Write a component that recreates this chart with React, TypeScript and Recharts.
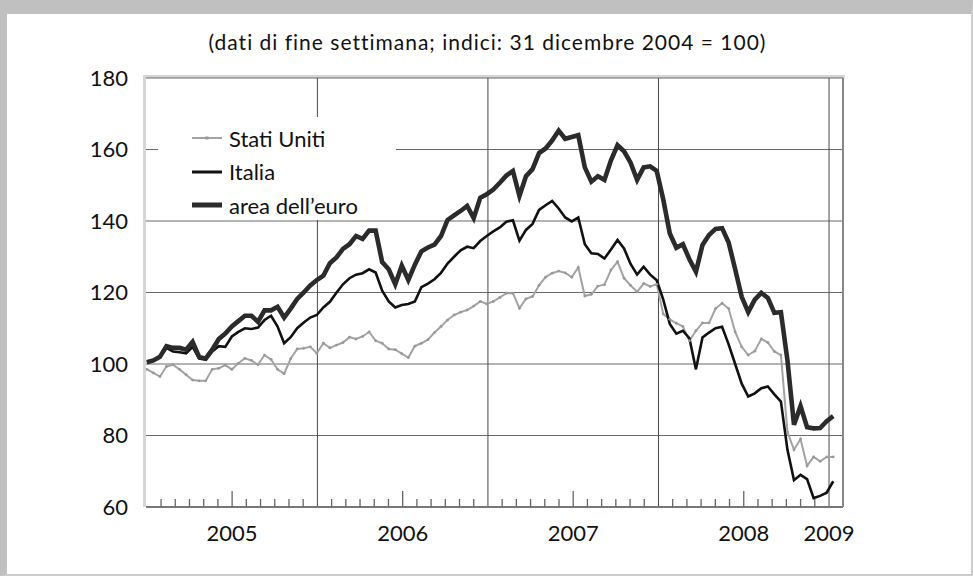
import { LineChart, Line, XAxis, YAxis, CartesianGrid, ReferenceLine, Legend } from 'recharts';

// fortnightly readings from 31 Dec 2004 to Jan 2009 (index: 31/12/2004 = 100)
const START_YEAR = 2005;
const STEP_DAYS = 14;

const statiUniti = [
  98.5, 97.5, 96.5, 99.3, 99.8, 98.5, 97, 95.5, 95.3, 95.3,
  98.5, 98.8, 99.7, 98.5, 100.2, 101.6, 101, 99.8, 102.5, 101.3,
  98.5, 97.3, 101.5, 104.2, 104.4, 104.8, 103, 105.8, 104.5, 105.3,
  106, 107.5, 107, 107.7, 109, 106.5, 105.8, 104.2, 104, 102.9,
  101.8, 105, 105.8, 106.8, 108.8, 110.5, 112.3, 113.7, 114.5, 115.1,
  116.2, 117.5, 116.8, 117.5, 118.6, 119.8, 119.8, 115.6, 118.2, 118.9,
  122, 124.3, 125.4, 126, 125.5, 124.3, 127, 119, 119.5, 121.8,
  122.2, 126.3, 128.6, 124, 122, 120.2, 122.5, 121.7, 122.3, 114,
  112.5, 111.4, 110.5, 106.5, 109.3, 111.5, 111.5, 115.5, 117, 115.5,
  109, 104.8, 102.5, 103.6, 107, 106, 103.5, 102.5, 81, 76,
  79, 71.5, 74, 72.8, 74, 74,
];

const italia = [
  100.5, 101, 102, 104.5, 103.5, 103.3, 103, 104.8, 101.5, 101.2,
  103.5, 105, 104.8, 107.7, 109, 110, 109.8, 110.2, 112.3, 113.5,
  110.5, 105.8, 107.5, 110, 111.6, 113, 113.7, 115.8, 117.4, 119.9,
  122.3, 124, 125, 125.4, 126.5, 125.6, 120.5, 117.5, 115.8, 116.5,
  116.8, 117.5, 121.5, 122.5, 123.7, 125.5, 128.1, 130, 131.8, 132.8,
  132.4, 134.4, 135.8, 137.1, 138.2, 139.8, 140.2, 134.5, 137.5, 139.2,
  143.1, 144.4, 145.6, 143.5, 141, 139.9, 141, 133.5, 131, 130.8,
  129.5, 132, 134.7, 132.3, 128, 125, 127.2, 125, 123.4, 118,
  111.2, 108.5, 109.3, 107.2, 98.5, 107.4, 108.8, 110, 110.4, 105.5,
  100, 94.5, 90.9, 91.8, 93.2, 93.7, 91.5, 89.5, 76, 67.5,
  69, 67.8, 62.5, 63.1, 64, 67.2,
];

const areaEuro = [
  100.5, 101, 102, 105, 104.5, 104.5, 104, 106.2, 102, 101.5,
  104, 107, 108.5, 110.5, 112, 113.5, 113.5, 111.8, 115, 115,
  116, 113, 115.5, 118.2, 120, 122, 123.5, 124.7, 128.2, 129.8,
  132.2, 133.5, 135.8, 135, 137.3, 137.3, 128.5, 126.5, 122.3, 127.5,
  123.5, 127.8, 131.5, 132.6, 133.4, 135.8, 140.3, 141.6, 142.8, 144.2,
  140.8, 146.5, 147.5, 148.8, 150.7, 152.7, 154, 147, 152.5, 154.5,
  159, 160.3, 162.5, 165.3, 163, 163.5, 164, 155, 151, 152.5,
  151.5, 157, 161.2, 159.5, 156.3, 151.5, 155, 155.3, 154, 146,
  136.5, 132.5, 133.5, 129.3, 125.8, 133.3, 136.1, 137.8, 138, 134,
  126.5, 118.8, 114.5, 118, 119.9, 118.5, 114.3, 114.5, 101, 83,
  88.2, 82.3, 82, 82.1, 84, 85.4,
];

const yTicks = [60, 80, 100, 120, 140, 160, 180];
const yearLines = [2006, 2007, 2008, 2009];
const years = [2005, 2006, 2007, 2008];

const data = areaEuro.map((v, i) => ({
  t: START_YEAR + (i * STEP_DAYS) / 365.25,
  usa: statiUniti[i],
  ita: italia[i],
  euro: v,
}));

// monthly ticks, Jan 2005 .. Jan 2009
const monthTicks: number[] = [];
years.forEach((y) => {
  for (let m = 0; m < 12; m++) monthTicks.push(y + m / 12);
});
monthTicks.push(2009);

const FONT = 'Lato, "Open Sans", sans-serif';

function MonthTick(props: any) {
  const { x, y, payload } = props;
  const mi = Math.round((payload.value - START_YEAR) * 12);
  const m = mi % 12;
  const year = START_YEAR + Math.floor(mi / 12);
  const showLabel = m === 6 || year === 2009;
  return (
    <g>
      {m !== 0 && (
        <line x1={x} x2={x} y1={y} y2={y - (m === 6 ? 16 : 8)} stroke="#666" strokeWidth={1.3} />
      )}
      {showLabel && (
        <text x={x} y={y + 34} textAnchor="middle" fontSize={22} fill="#111" fontFamily={FONT}>
          {year}
        </text>
      )}
    </g>
  );
}

const legendItems = [
  { label: 'Stati Uniti', color: '#a3a3a3', width: 2, dot: true },
  { label: 'Italia', color: '#111', width: 3, dot: false },
  { label: 'area dell\u2019euro', color: '#2b2b2b', width: 5, dot: false },
];

function LegendBox() {
  return (
    <div style={{ background: '#fff', width: 238, height: 103, fontFamily: FONT, fontSize: 22, color: '#111' }}>
      {legendItems.map((it, i) => (
        <div key={it.label} style={{ position: 'absolute', left: 34, top: 7 + i * 33.5, height: 28, display: 'flex', alignItems: 'center' }}>
          <svg width={30} height={10} style={{ marginRight: 7 }}>
            <line x1={0} x2={30} y1={5} y2={5} stroke={it.color} strokeWidth={it.width} />
            {it.dot && <rect x={13.5} y={3.5} width={3} height={3} fill="#999" />}
          </svg>
          <span>{it.label}</span>
        </div>
      ))}
    </div>
  );
}

export default function App() {
  return (
    <div style={{ position: 'absolute', left: 0, top: 0, width: 973, height: 576, background: '#fff', fontFamily: FONT }}>
      <div
        style={{
          position: 'absolute', left: 0, top: 0, width: 973, height: 576, boxSizing: 'border-box',
          borderTop: '14px solid #c0c0c0', borderLeft: '7px solid #c0c0c0',
          borderRight: '2px solid #cccccc', borderBottom: '2px solid #cccccc',
        }}
      />
      <div
        style={{
          position: 'absolute', left: 143, top: 75, width: 702, height: 432, boxSizing: 'border-box',
          borderTop: '3px solid #d6d6d6', borderLeft: '3px solid #d6d6d6',
        }}
      />
      <div
        style={{
          position: 'absolute', left: 0, top: 29, width: 975, textAlign: 'center',
          fontSize: 21, letterSpacing: 1, color: '#111',
        }}
      >
        (dati di fine settimana; indici: 31 dicembre 2004 = 100)
      </div>
      <div style={{ position: 'absolute', left: 0, top: 0 }}>
        <LineChart width={973} height={576} data={data} margin={{ top: 78, right: 0, bottom: 0, left: 0 }}>
          <CartesianGrid yAxisId="left" vertical={false} stroke="#6a6a6a" strokeWidth={1} />
          <XAxis
            dataKey="t"
            type="number"
            domain={[2004.995, 2009.082]}
            allowDataOverflow
            ticks={monthTicks}
            interval={0}
            tick={<MonthTick />}
            tickLine={false}
            tickSize={0}
            tickMargin={0}
            axisLine={{ stroke: '#777', strokeWidth: 2 }}
            height={69}
          />
          <YAxis
            yAxisId="left"
            domain={[60, 180]}
            ticks={yTicks}
            interval={0}
            width={146}
            tickLine={false}
            tickSize={0}
            tickMargin={18}
            axisLine={false}
            tick={{ fontSize: 22, fill: '#111', fontFamily: FONT }}
          />
          <YAxis
            yAxisId="right"
            orientation="right"
            domain={[60, 180]}
            ticks={yTicks}
            interval={0}
            width={130}
            tickLine={false}
            tickSize={0}
            tickMargin={11}
            axisLine={{ stroke: '#888', strokeWidth: 2 }}
            tick={{ fontSize: 22, fill: '#111', fontFamily: FONT, textAnchor: 'start' }}
          />
          {yearLines.map((y) => (
            <ReferenceLine key={y} yAxisId="left" x={y} stroke="#4a4a4a" strokeWidth={1} />
          ))}
          <Line
            yAxisId="left"
            dataKey="usa"
            type="linear"
            stroke="#a3a3a3"
            strokeWidth={2}
            dot={{ r: 1.4, fill: '#999', stroke: 'none' }}
            isAnimationActive={false}
          />
          <Line yAxisId="left" dataKey="ita" type="linear" stroke="#111" strokeWidth={2.6} dot={false} isAnimationActive={false} />
          <Line yAxisId="left" dataKey="euro" type="linear" stroke="#2b2b2b" strokeWidth={4.6} dot={false} isAnimationActive={false} />
          <Legend
            layout="vertical"
            align="center"
            verticalAlign="middle"
            content={<LegendBox />}
            wrapperStyle={{ left: 158, top: 117, width: 238, height: 103 }}
          />
        </LineChart>
      </div>
    </div>
  );
}
